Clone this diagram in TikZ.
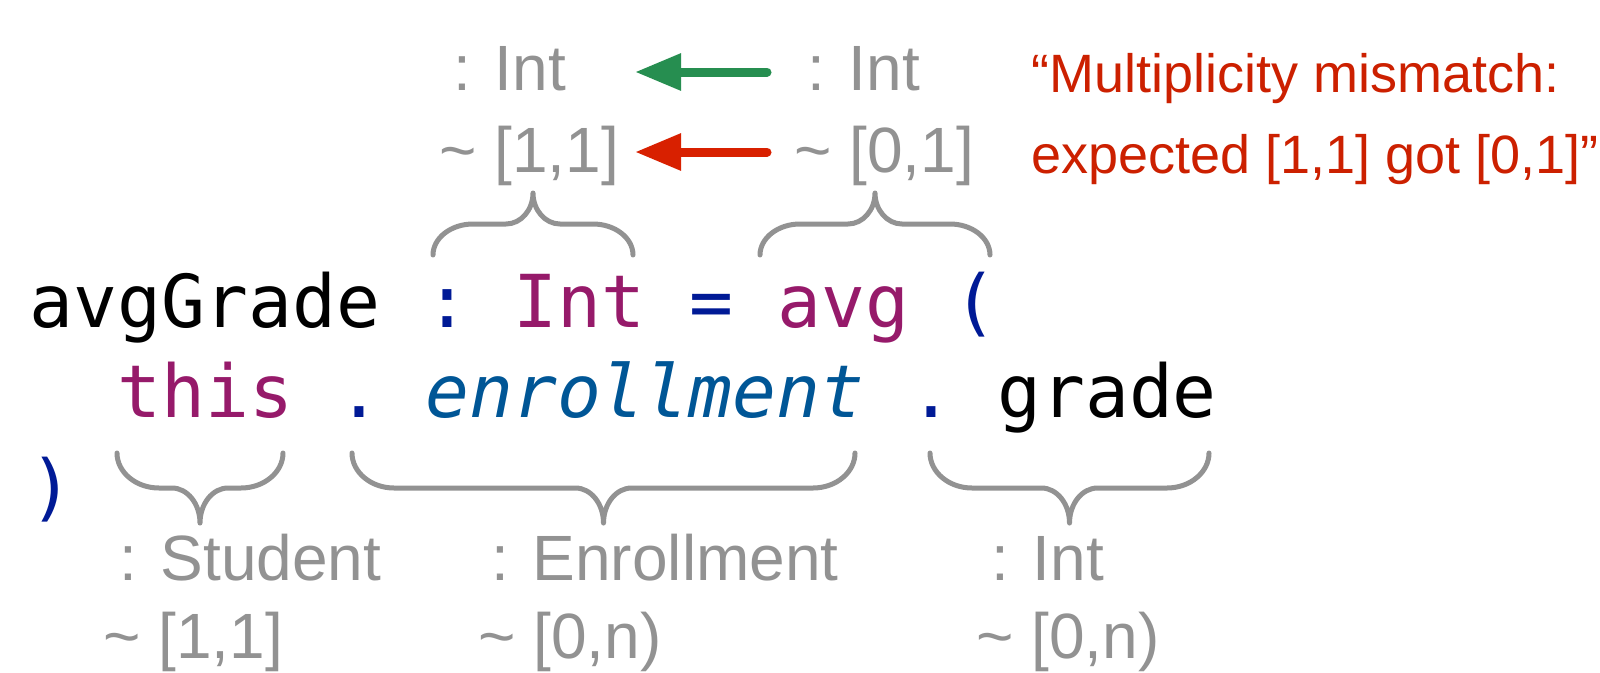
\documentclass[tikz,border=0pt]{standalone}
\usepackage{fontspec}
\setmainfont{Liberation Sans}
\newfontfamily\codefont{DejaVu Sans Mono}
\usetikzlibrary{arrows.meta,calc}

\definecolor{labelgray}{RGB}{146,146,146}
\definecolor{kwpurple}{RGB}{150,26,106}
\definecolor{punctblue}{RGB}{0,26,150}
\definecolor{fieldblue}{RGB}{0,86,150}
\definecolor{okgreen}{RGB}{38,142,80}
\definecolor{errred}{RGB}{216,32,0}
\definecolor{msgred}{RGB}{204,32,0}

\tikzset{
  bracev/.store in=\bracev, bracev=35,
  braceh/.store in=\braceh, braceh=42,
  bracet/.store in=\bracet, bracet=28,
  % curly brace between two end points; the tip lies 2*bracev away from them
  curly/.style={to path={
    .. controls +(0,0.55*\bracev) and +(-0.55*\braceh,0) .. ++(\braceh,\bracev)
    -- ($(\tikztostart)!0.5!(\tikztotarget)+(-\bracet,\bracev)$)
    .. controls +(0.55*\bracet,0) and +(0,-0.55*\bracev) .. ($(\tikztostart)!0.5!(\tikztotarget)+(0,2*\bracev)$)
    .. controls +(0,-0.55*\bracev) and +(-0.55*\bracet,0) .. ($(\tikztostart)!0.5!(\tikztotarget)+(\bracet,\bracev)$)
    -- ($(\tikztotarget)+(-\braceh,\bracev)$)
    .. controls +(0.55*\braceh,0) and +(0,0.55*\bracev) .. (\tikztotarget)
  }},
  bracestyle/.style={draw=labelgray, line width=5pt, line cap=round, line join=round},
  code/.style={font=\codefont\fontsize{73}{80}\selectfont, inner sep=0pt, anchor=base west},
  codeit/.style={font=\codefont\fontsize{73}{80}\selectfont\itshape, inner sep=0pt, anchor=base west},
  typelabel/.style={font=\fontsize{64}{70}\selectfont, text=labelgray, inner sep=0pt, anchor=base west},
  message/.style={font=\fontsize{54}{60}\selectfont, text=msgred, inner sep=0pt, anchor=base west},
  flowarrow/.style={line width=9pt, line cap=round, -{Triangle[length=46pt,width=35pt]}}
}

\begin{document}
\begin{tikzpicture}[x=1pt,y=-1pt]
\useasboundingbox (0,0) rectangle (1600,672);
\fill[white] (0,0) rectangle (1600,672);

% --- code ---
\node[code, text=black]      (avgGrade) at (29,327)  {avgGrade};
\node[code, text=punctblue]  (colon)    at (425,327) {:};
\node[code, text=kwpurple]   (intT)     at (513,327) {Int};
\node[code, text=punctblue]  (eq)       at (689,327) {=};
\node[code, text=kwpurple]   (avg)      at (777,327) {avg};
\node[code, text=punctblue]  (lpar)     at (953,327) {(};
\node[code, text=kwpurple]   (this)     at (117,417) {this};
\node[code, text=punctblue]  (dotA)     at (337,417) {.};
\node[codeit, text=fieldblue](enroll)   at (425,417) {enrollment};
\node[code, text=punctblue]  (dotB)     at (909,417) {.};
\node[code, text=black]      (grade)    at (997,417) {grade};
\node[code, text=punctblue]  (rpar)     at (29,512)  {)};

% --- braces above the code ---
\coordinate (tAl) at (433,255); \coordinate (tAr) at (633,255);
\coordinate (tBl) at (760,255); \coordinate (tBr) at (990,255);
\draw[bracestyle, bracev=-31, braceh=40, bracet=27] (tAl) to[curly] (tAr);
\draw[bracestyle, bracev=-31, braceh=40, bracet=27] (tBl) to[curly] (tBr);

% --- braces below the code ---
\coordinate (bAl) at (117,453);  \coordinate (bAr) at (283,453);
\coordinate (bBl) at (352,453);  \coordinate (bBr) at (855,453);
\coordinate (bCl) at (930,453);  \coordinate (bCr) at (1209,453);
\draw[bracestyle] (bAl) to[curly] (bAr);
\draw[bracestyle] (bBl) to[curly] (bBr);
\draw[bracestyle] (bCl) to[curly] (bCr);

% --- type annotations ---
\node[typelabel] (expType)  at (453,90)  {: Int};
\node[typelabel] (expMult)  at (439,172) {\textasciitilde\ [1,1]};
\node[typelabel] (gotType)  at (807,90)  {: Int};
\node[typelabel] (gotMult)  at (794,172) {\textasciitilde\ [0,1]};

\node[typelabel] (stuType)  at (119,580) {: Student};
\node[typelabel] (stuMult)  at (103,658) {\textasciitilde\ [1,1]};
\node[typelabel] (enrType)  at (491,580) {: Enrollment};
\node[typelabel] (enrMult)  at (478,658) {\textasciitilde\ [0,n)};
\node[typelabel] (grdType)  at (991,580) {: Int};
\node[typelabel] (grdMult)  at (976,658) {\textasciitilde\ [0,n)};

% --- checks ---
\coordinate (typeFrom) at (767,72);  \coordinate (typeTo) at (635,72);
\coordinate (multFrom) at (767,152); \coordinate (multTo) at (635,152);
\draw[flowarrow, okgreen] (typeFrom) -- (typeTo);
\draw[flowarrow, errred]  (multFrom) -- (multTo);

% --- error message ---
\node[message] (msgA) at (1031,92)  {“Multiplicity mismatch:};
\node[message] (msgB) at (1031,173) {expected [1,1] got [0,1]”};
\end{tikzpicture}
\end{document}
